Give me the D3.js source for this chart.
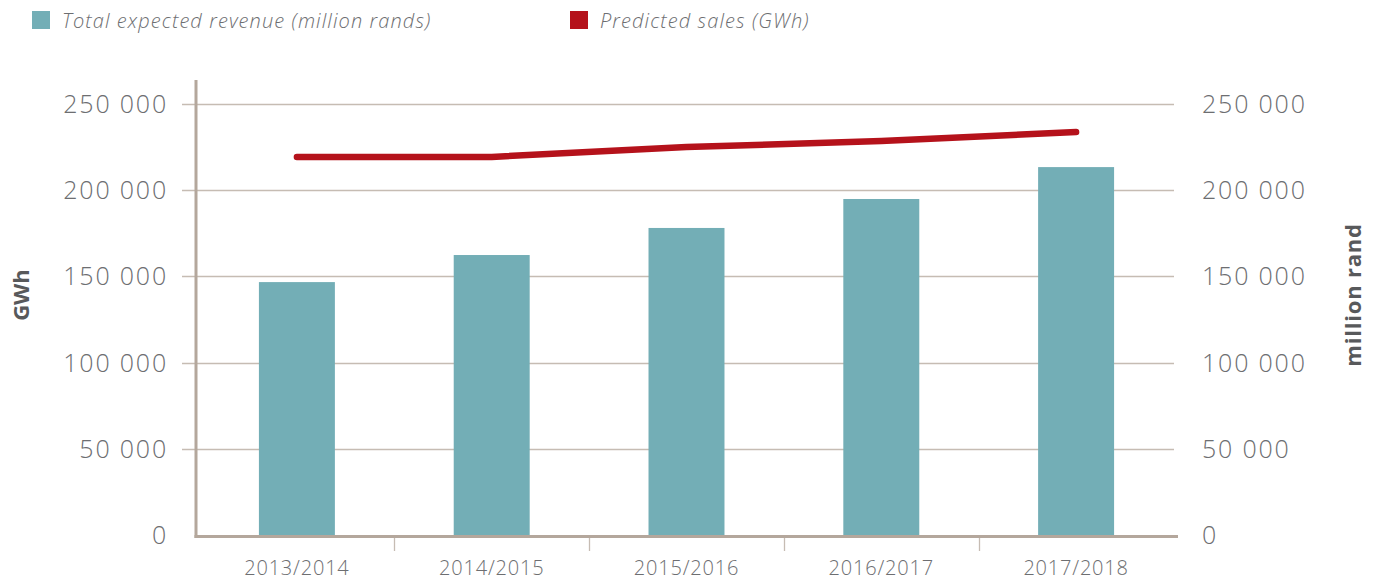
<!DOCTYPE html>
<html>
<head>
<meta charset="utf-8">
<script src="https://cdn.jsdelivr.net/npm/d3@7"></script>
<style>
  body { margin: 0; background: #fff; }
  svg { display: block; font-family: "Open Sans", sans-serif; }
</style>
</head>
<body>
<svg id="chart" width="1378" height="580"></svg>
<script>
const categories = ["2013/2014", "2014/2015", "2015/2016", "2016/2017", "2017/2018"];
// million rands (bars, right axis)
const revenue = [146700, 162400, 178100, 194900, 213400];
// GWh (line, left axis)
const sales = [219300, 219300, 225000, 228500, 233700];
const yTicks = [0, 50000, 100000, 150000, 200000, 250000];

const width = 1378, height = 580;
const plot = { left: 196, right: 1174, top: 104, bottom: 535 };

const barColor = "#73aeb6";
const lineColor = "#b5121b";
const axisColor = "#b4a79c";
const gridColor = "#c6bcb3";
const textColor = "#6d6e71";

const svg = d3.select("#chart");

const x = d3.scaleBand()
  .domain(categories)
  .range([199.5, 1173.5])
  .padding(0);

const yLeft = d3.scaleLinear().domain([0, 250000]).range([plot.bottom, plot.top]);
const yRight = d3.scaleLinear().domain([0, 250000]).range([plot.bottom, plot.top]);

const fmt = (d) => d3.format(",")(d).replace(/,/g, " ");

// gridlines
svg.append("g")
  .selectAll("line")
  .data(yTicks.filter((d) => d > 0))
  .join("line")
  .attr("x1", 182)
  .attr("x2", plot.right)
  .attr("y1", (d) => Math.round(yLeft(d)) + 0.5)
  .attr("y2", (d) => Math.round(yLeft(d)) + 0.5)
  .attr("stroke", gridColor)
  .attr("stroke-width", 1.3);

// bars
const barW = x.bandwidth() * 0.39;
svg.append("g")
  .selectAll("rect")
  .data(revenue)
  .join("rect")
  .attr("x", (d, i) => x(categories[i]) + (x.bandwidth() - barW) / 2)
  .attr("y", (d) => yRight(d))
  .attr("width", barW)
  .attr("height", (d) => yRight(0) - yRight(d))
  .attr("fill", barColor);

// line
const lineFn = d3.line()
  .x((d, i) => x(categories[i]) + x.bandwidth() / 2)
  .y((d) => yLeft(d));

svg.append("path")
  .datum(sales)
  .attr("d", lineFn)
  .attr("fill", "none")
  .attr("stroke", lineColor)
  .attr("stroke-width", 6.5)
  .attr("stroke-linecap", "round")
  .attr("stroke-linejoin", "round");

// left axis line
svg.append("line")
  .attr("x1", plot.left).attr("x2", plot.left)
  .attr("y1", 80).attr("y2", 538)
  .attr("stroke", axisColor)
  .attr("stroke-width", 3);

// baseline
svg.append("line")
  .attr("x1", plot.left - 1.5).attr("x2", 1178)
  .attr("y1", 536.5).attr("y2", 536.5)
  .attr("stroke", axisColor)
  .attr("stroke-width", 3);

// x category separators
svg.append("g")
  .selectAll("line")
  .data(categories.slice(1))
  .join("line")
  .attr("x1", (d) => Math.round(x(d)) + 0.5)
  .attr("x2", (d) => Math.round(x(d)) + 0.5)
  .attr("y1", 538)
  .attr("y2", 551)
  .attr("stroke", gridColor)
  .attr("stroke-width", 1.3);

// x labels
svg.append("g")
  .selectAll("text")
  .data(categories)
  .join("text")
  .attr("x", (d) => x(d) + x.bandwidth() / 2)
  .attr("y", 575)
  .attr("text-anchor", "middle")
  .attr("font-size", 20)
  .attr("font-weight", 300)
  .attr("letter-spacing", 0.8)
  .attr("fill", textColor)
  .text((d) => d);

// left tick labels
svg.append("g")
  .selectAll("text")
  .data(yTicks)
  .join("text")
  .attr("x", 168)
  .attr("y", (d) => yLeft(d) + 9)
  .attr("text-anchor", "end")
  .attr("font-size", 25)
  .attr("font-weight", 300)
  .attr("letter-spacing", 1.8)
  .attr("fill", textColor)
  .text(fmt);

// right tick labels
svg.append("g")
  .selectAll("text")
  .data(yTicks)
  .join("text")
  .attr("x", 1202)
  .attr("y", (d) => yRight(d) + 9)
  .attr("text-anchor", "start")
  .attr("font-size", 25)
  .attr("font-weight", 300)
  .attr("letter-spacing", 1.8)
  .attr("fill", textColor)
  .text(fmt);

// axis titles
svg.append("text")
  .attr("transform", "translate(29,295) rotate(-90)")
  .attr("text-anchor", "middle")
  .attr("font-size", 22)
  .attr("font-weight", 700)
  .attr("fill", "#58595b")
  .text("GWh");

svg.append("text")
  .attr("transform", "translate(1361,295) rotate(-90)")
  .attr("text-anchor", "middle")
  .attr("font-size", 22)
  .attr("font-weight", 700)
  .attr("letter-spacing", 0.8)
  .attr("fill", "#58595b")
  .text("million rand");

// legend
const legend = [
  { label: "Total expected revenue (million rands)", color: barColor, x: 32 },
  { label: "Predicted sales (GWh)", color: lineColor, x: 570 }
];
const lg = svg.append("g")
  .selectAll("g")
  .data(legend)
  .join("g")
  .attr("transform", (d) => `translate(${d.x},11)`);
lg.append("rect")
  .attr("width", 18).attr("height", 18)
  .attr("fill", (d) => d.color);
lg.append("text")
  .attr("x", 30)
  .attr("y", 17)
  .attr("font-size", 20)
  .attr("font-style", "italic")
  .attr("font-weight", 300)
  .attr("letter-spacing", 1.1)
  .attr("fill", textColor)
  .text((d) => d.label);
</script>
</body>
</html>
